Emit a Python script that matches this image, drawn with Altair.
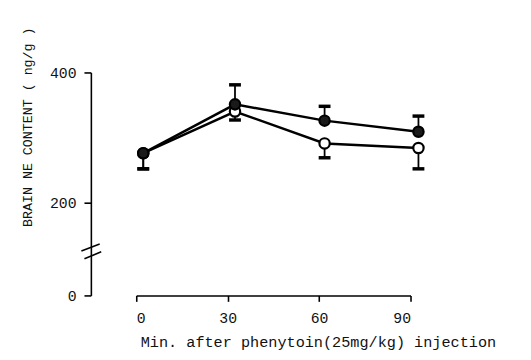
import altair as alt
import pandas as pd

# x positions as drawn (minutes)
times = [2.3, 32.4, 61.8, 92.6]
filled_vals = [276, 351, 326, 309]
open_vals = [276, 340, 291, 284]
# error bar ends
filled_err = [252, 381, 348, 333]
open_err = [252, 327, 269, 252]

x_ticks = [0, 30, 60, 90]
y_ticks = [0, 200, 400]

# axis-break slashes (data units)
brk_x1 = [-18.0, -17.0]
brk_x2 = [-12.0, -11.5]
brk_y1 = [96, 79]
brk_y2 = [111, 94]

FONT = "Liberation Mono"

rows = []
for t, v, e in zip(times, filled_vals, filled_err):
    rows.append({"t": t, "v": v, "e": e, "s": "filled"})
for t, v, e in zip(times, open_vals, open_err):
    rows.append({"t": t, "v": v, "e": e, "s": "open"})
df = pd.DataFrame(rows)
brk = pd.DataFrame({"x1": brk_x1, "x2": brk_x2, "y1": brk_y1, "y2": brk_y2})

xs = alt.Scale(domain=[0, 90], nice=False, zero=False)
ys = alt.Scale(domain=[0, 200, 400], range=[226, 132, 0], nice=False, zero=False)

xax = alt.Axis(values=x_ticks, title="Min. after phenytoin(25mg/kg) injection",
               grid=False, domainColor="black", domainWidth=1.6, tickColor="black",
               tickWidth=1.6, tickSize=6, labelFont=FONT, labelFontSize=15,
               labelColor="#111", labelPadding=9, titleFont=FONT, titleFontSize=15.4,
               titleFontWeight="normal", titleColor="#111", titleAnchor="start",
               titleAlign="left", titleX=4, titleY=52, titleBaseline="alphabetic")
yax = alt.Axis(values=y_ticks, title="BRAIN NE CONTENT ( ng/g )", offset=46,
               grid=False, domainColor="black", domainWidth=1.6, tickColor="black",
               tickWidth=1.6, tickSize=7, labelFont=FONT, labelFontSize=15,
               labelColor="#111", labelPadding=8, titleFont=FONT, titleFontSize=13.5,
               titleFontWeight="normal", titleColor="#111", titleX=-64, titleY=55,
               titleAngle=270, titleAlign="center", titleBaseline="middle")

base = alt.Chart(df)

lines = base.mark_line(color="black", strokeWidth=2.5).encode(
    x=alt.X("t:Q", scale=xs, axis=xax),
    y=alt.Y("v:Q", scale=ys, axis=yax),
    detail="s:N",
)
stems = base.mark_rule(color="black", strokeWidth=1.8).encode(
    x=alt.X("t:Q", scale=xs), y=alt.Y("v:Q", scale=ys), y2="e:Q"
)
caps = base.mark_tick(color="black", orient="horizontal", size=12, thickness=3.5,
                      opacity=1).encode(
    x=alt.X("t:Q", scale=xs), y=alt.Y("e:Q", scale=ys)
)
open_pts = base.transform_filter("datum.s == 'open'").mark_point(
    filled=True, fill="white", stroke="black", strokeWidth=2.2, size=110, opacity=1
).encode(x=alt.X("t:Q", scale=xs), y=alt.Y("v:Q", scale=ys))
filled_pts = base.transform_filter("datum.s == 'filled'").mark_point(
    filled=True, fill="#1a1a1a", stroke="black", strokeWidth=2.2, size=110, opacity=1
).encode(x=alt.X("t:Q", scale=xs), y=alt.Y("v:Q", scale=ys))

breaks = alt.Chart(brk).mark_rule(color="black", strokeWidth=1.6).encode(
    x=alt.X("x1:Q", scale=xs), x2="x2:Q",
    y=alt.Y("y1:Q", scale=ys), y2="y2:Q"
)

chart = alt.layer(lines, stems, caps, open_pts, filled_pts, breaks).properties(
    width=278, height=226,
    background="white",
    autosize=alt.AutoSizeParams(type="none"),
    padding={"left": 130, "top": 63, "right": 114, "bottom": 55},
).configure_view(strokeWidth=0)

chart.save("out.html", embed_options={"renderer": "svg", "actions": False})
